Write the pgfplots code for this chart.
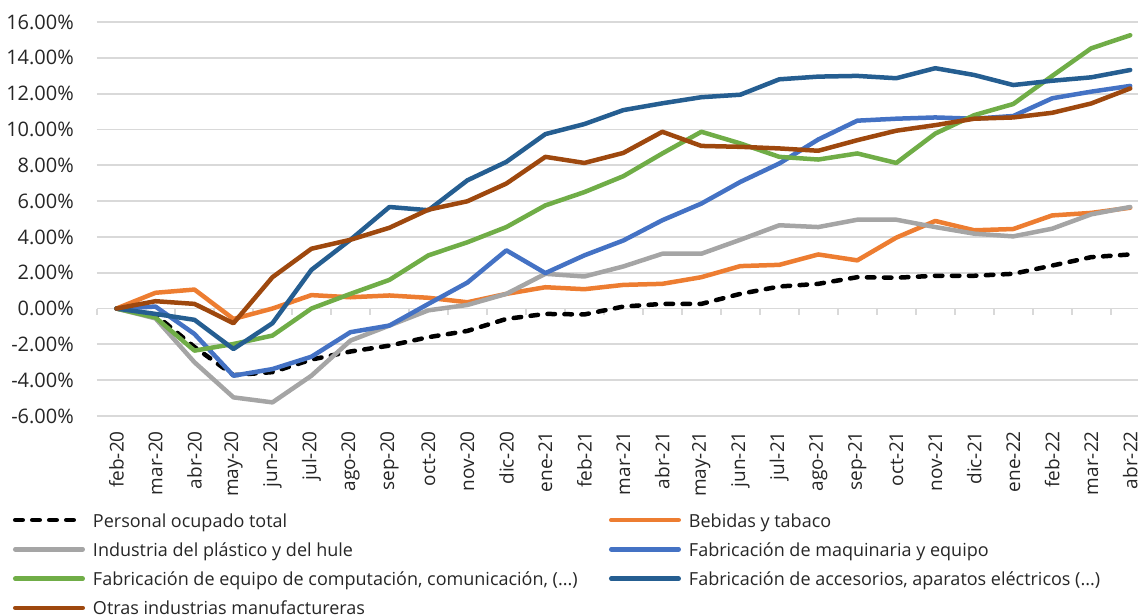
\documentclass[border=0pt]{standalone}
\usepackage{pgfplots}
\pgfplotsset{compat=1.18}
\usepackage{pgfplotstable}
\usepackage{fontspec}
\setmainfont{Open Sans}
\definecolor{cgrid}{HTML}{D9D9D9}
\definecolor{ctext}{HTML}{262626}
\definecolor{corange}{HTML}{ED7D31}
\definecolor{cgray}{HTML}{A5A5A5}
\definecolor{cblue}{HTML}{4472C4}
\definecolor{cgreen}{HTML}{70AD47}
\definecolor{cdblue}{HTML}{255E91}
\definecolor{cbrown}{HTML}{9E480E}
\pgfplotstableread{
x tot beb pla maq comp acc otr
0 0 0 0 0 0 0 0
1 -0.35 0.88 -0.55 0.11 -0.50 -0.30 0.41
2 -2.15 1.06 -3.00 -1.42 -2.35 -0.63 0.26
3 -3.72 -0.58 -4.96 -3.75 -1.98 -2.26 -0.82
4 -3.55 0.00 -5.24 -3.38 -1.51 -0.82 1.75
5 -2.85 0.75 -3.75 -2.69 0.00 2.16 3.34
6 -2.40 0.63 -1.79 -1.32 0.82 3.84 3.84
7 -2.07 0.73 -0.95 -0.95 1.60 5.67 4.51
8 -1.60 0.60 -0.10 0.26 2.97 5.49 5.52
9 -1.25 0.35 0.20 1.45 3.70 7.16 5.99
10 -0.58 0.82 0.82 3.25 4.55 8.19 6.98
11 -0.30 1.19 1.94 1.98 5.76 9.74 8.47
12 -0.33 1.08 1.79 2.97 6.50 10.30 8.13
13 0.11 1.32 2.35 3.80 7.39 11.08 8.69
14 0.26 1.38 3.06 4.93 8.66 11.46 9.87
15 0.26 1.75 3.06 5.86 9.87 11.80 9.08
16 0.82 2.37 3.84 7.07 9.22 11.94 9.03
17 1.23 2.44 4.65 8.10 8.47 12.80 8.94
18 1.38 3.02 4.55 9.44 8.32 12.95 8.81
19 1.75 2.69 4.96 10.49 8.66 12.99 9.40
20 1.72 3.96 4.96 10.60 8.13 12.86 9.93
21 1.83 4.89 4.55 10.67 9.77 13.42 10.24
22 1.83 4.37 4.18 10.60 10.80 13.04 10.60
23 1.94 4.44 4.03 10.75 11.42 12.48 10.67
24 2.40 5.20 4.46 11.74 12.99 12.72 10.93
25 2.87 5.34 5.26 12.11 14.53 12.91 11.45
26 3.02 5.63 5.67 12.43 15.26 13.32 12.29
}\data
\begin{document}
\begin{tikzpicture}
\begin{axis}[
  name=ax,
  scale only axis, width=1041pt, height=394pt,
  xmin=-0.5, xmax=26.2, ymin=-6, ymax=16,
  ytick={-6,-4,...,16},
  xtick={0,...,26},
  xticklabels={feb-20,mar-20,abr-20,may-20,jun-20,jul-20,ago-20,sep-20,oct-20,nov-20,dic-20,ene-21,feb-21,mar-21,abr-21,may-21,jun-21,jul-21,ago-21,sep-21,oct-21,nov-21,dic-21,ene-22,feb-22,mar-22,abr-22},
  axis line style={draw=none},
  major tick length=0pt,
  ymajorgrids, grid style={cgrid, line width=1.8pt},
  yticklabel={\pgfmathprintnumber[fixed,fixed zerofill,precision=2,assume math mode=true]{\tick}\%},
  yticklabel style={font=\fontsize{20}{24}\selectfont, text=ctext, inner sep=0pt, anchor=east},
  yticklabel shift=23pt,
  xticklabel style={font=\fontsize{19}{23}\selectfont, text=ctext, inner sep=0pt, rotate=90, anchor=east},
  xticklabel shift=15pt,
  clip=false,
  legend columns=2,
  legend cell align=left,
  legend style={at={(axis description cs:-0.0807,-0.2437)}, anchor=north west,
    draw=none, fill=none, inner sep=0pt, outer sep=0pt,
    column sep=8pt, row sep=13.3pt,
    font=\fontsize{18}{22}\selectfont, text=ctext,
    nodes={inner sep=0pt, text height=15pt, text depth=1pt}},
  legend image code/.code={\path[draw=none, fill=none] (0pt,0pt) -- (72pt,0pt);
    \draw[line width=4.5pt, line cap=round, #1] (2.25pt,0pt) -- (69.75pt,0pt);},
  every axis plot/.append style={line width=4.5pt, line cap=round, line join=round},
]
\addplot[ycomb, cgrid, line width=1.8pt, line cap=butt, forget plot] coordinates {
(-0.5,-0.335) (0.5,-0.335) (1.5,-0.335) (2.5,-0.335) (3.5,-0.335) (4.5,-0.335) (5.5,-0.335) (6.5,-0.335) (7.5,-0.335) (8.5,-0.335) (9.5,-0.335) (10.5,-0.335) (11.5,-0.335) (12.5,-0.335) (13.5,-0.335) (14.5,-0.335) (15.5,-0.335) (16.5,-0.335) (17.5,-0.335) (18.5,-0.335) (19.5,-0.335) (20.5,-0.335) (21.5,-0.335) (22.5,-0.335) (23.5,-0.335) (24.5,-0.335) (25.5,-0.335)};
\addplot[black, dash pattern=on 7.5pt off 9.5pt] table[x=x, y=tot] {\data};
\addlegendentry{\makebox[508pt][l]{Personal ocupado total}}
\addplot[corange] table[x=x, y=beb] {\data};
\addlegendentry{Bebidas y tabaco}
\addplot[cgray] table[x=x, y=pla] {\data};
\addlegendentry{\makebox[508pt][l]{Industria del plástico y del hule}}
\addplot[cblue] table[x=x, y=maq] {\data};
\addlegendentry{Fabricación de maquinaria y equipo}
\addplot[cgreen] table[x=x, y=comp] {\data};
\addlegendentry{\makebox[508pt][l]{Fabricación de equipo de computación, comunicación, (...)}}
\addplot[cdblue] table[x=x, y=acc] {\data};
\addlegendentry{Fabricación de accesorios, aparatos eléctricos (...)}
\addplot[cbrown] table[x=x, y=otr] {\data};
\addlegendentry{\makebox[508pt][l]{Otras industrias manufactureras}}
\end{axis}
\pgfresetboundingbox
\path ([xshift=-97pt,yshift=-199pt]ax.south west) rectangle ([yshift=22pt]ax.north east);
\end{tikzpicture}
\end{document}
